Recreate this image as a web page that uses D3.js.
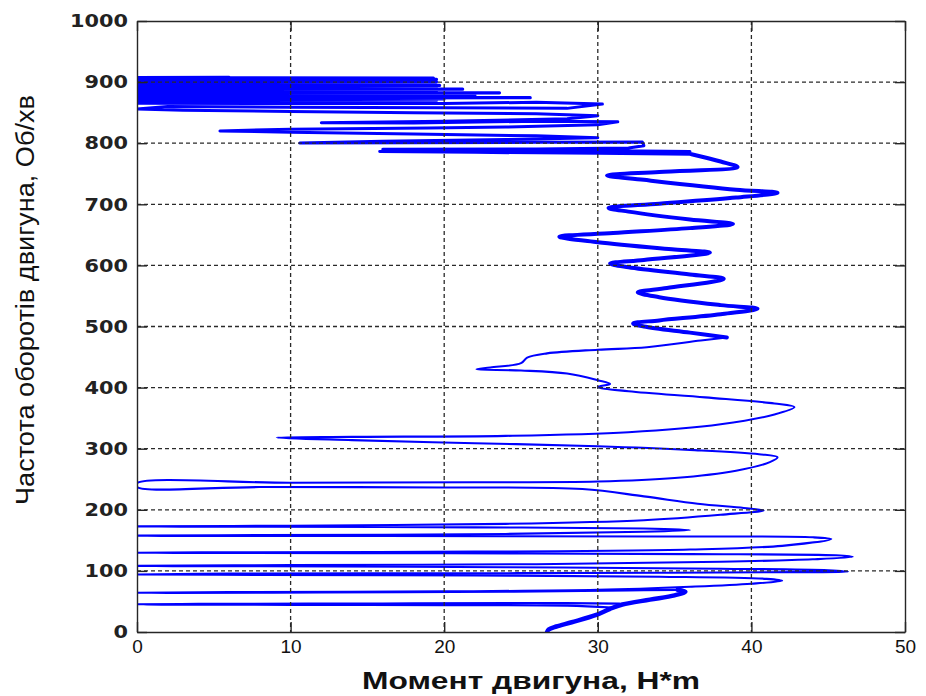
<!DOCTYPE html>
<html>
<head>
<meta charset="utf-8">
<script src="https://cdn.jsdelivr.net/npm/d3@7"></script>
<style>
  body { margin: 0; background: #fff; }
  svg { display: block; }
</style>
</head>
<body>
<svg id="chart" width="926" height="696"></svg>
<script>
// Axis ticks
const torqueTicks = [0, 10, 20, 30, 40, 50];
const rpmTicks = [0, 100, 200, 300, 400, 500, 600, 700, 800, 900, 1000];

// Engine torque (N*m) vs engine speed (rpm), as [torque, rpm]
// Launch from standstill up to the first torque peak
const launch = [
  [26.7, 0], [26.8, 4], [27.3, 9], [28.3, 16], [29.9, 28], [30.8, 38], [31.6, 45],
  [33.4, 53], [35, 60], [35.7, 66], [35.2, 69]
];

// First gear change: torque drops to zero and recovers
const firstShift = [
  [30.9, 40], [28, 43.2], [20, 44], [10, 44.4], [2, 44.8], [0, 45.3], [4, 46], [16, 46.6],
  [26, 47.5], [31.4, 46.5]
];

// Run-up with further gear-change dips to zero torque
const runUp = [
  [35.2, 69], [32, 68], [24, 66],
  [12, 64.7], [2, 64], [0, 64.3], [6, 65.2], [20, 66.5], [30, 69],
  [36, 74], [40, 79], [42, 84], [41, 87], [34, 90.5], [22, 92.5], [8, 93.5], [0, 94], [6, 95.5],
  [20, 96], [34, 97], [43, 98], [46.3, 98.5], [45, 101],
  [38, 103.5], [24, 106], [8, 107.6], [0, 108.2], [10, 109.5], [26, 111], [38, 115], [44, 119],
  [46.6, 123], [45.5, 125.5],
  [36, 127.5], [20, 128.8], [4, 129.3], [0, 129.8], [6, 130.5], [22, 131.5], [36, 135], [42, 141],
  [45.2, 152], [44, 155],
  [34, 156.3], [16, 157], [2, 157.3], [0, 157.8], [8, 158.5], [24, 160.5], [33, 164], [36, 167], [33, 169.5],
  [22, 171.3], [8, 172.2], [0, 172.8], [10, 174], [24, 177], [33, 183], [38, 192], [40.8, 199], [39.5, 203],
  [36.5, 210], [33, 222], [29, 234], [20, 236.6], [8, 237.2], [0, 237.5], [0, 243.5], [10, 244.3],
  [22, 245], [30, 246.2],
  [35, 252], [39, 264], [41.2, 278], [41.7, 286], [40.5, 291], [36, 298], [30, 304], [22, 309],
  [14, 314], [9.1, 318], [14, 319.3],
  [24, 321], [32, 327], [38, 340], [41.5, 356], [42.8, 368], [41.5, 374], [37, 384], [32, 394],
  [30, 401], [30.8, 406], [30, 412], [28, 423], [25, 428], [22.1, 430], [23, 433], [25, 440],
  [25.4, 449], [26.7, 456], [30, 462], [33.2, 466], [36.7, 477], [38.4, 482]
];

// Speed-controlled region: steady torque oscillation
const oscillation = [
  [38.4, 482], [36, 490], [33, 500], [32.3, 505], [34, 510], [38, 520], [40.4, 529],
  [38, 535], [34, 548], [32.6, 556], [34.5, 563], [38.2, 578], [36, 585], [32, 597],
  [30.8, 603], [33, 609], [37.3, 621], [35, 626], [30, 638], [27.5, 647], [31, 653],
  [36, 661], [38.8, 668], [36, 675], [32, 688], [30.7, 694], [34, 701], [39, 711],
  [41.7, 719], [39, 724], [33, 740], [30.6, 747], [34, 753], [39.1, 761], [38, 770],
  [36.1, 782]
];

// Approach to the speed limit
const approach = [
  [36.1, 782], [30, 783.5], [22, 785], [15.8, 786.5], [24, 787], [34, 785.5], [36, 786.5],
  [28, 788.5], [20, 789.5], [16, 790], [26, 790.5], [32, 792], [33, 796], [32.9, 802],
  [26, 801.5], [18, 800.8], [10.6, 800.5], [16, 803], [24, 806], [30, 809], [26, 812], [18, 815],
  [10, 818], [5.4, 820], [10, 823], [19, 825], [24, 826.5], [30, 830], [31.3, 835], [26, 836],
  [18, 833], [12, 833.5], [20, 836], [28, 840], [30, 845], [26, 848], [18, 850], [10, 852],
  [3, 854], [0, 856], [2, 860], [10, 859], [20, 858], [28, 857], [30.3, 864], [26, 867], [20, 865]
];

// Speed limiter: torque chattering between zero and ~20 N*m
const limiter = [
  [20, 865], [0, 865.5], [18.6, 866.5], [0, 867.5], [19, 868.5], [0, 869.5], [19.5, 870.5],
  [0, 871.5], [20, 872.5], [0, 873.5], [25.6, 874.5], [0, 875.5], [19, 876.5], [0, 877.5],
  [22, 878.5], [0, 879.5], [19, 880.5], [0, 881.5], [23.6, 882.5], [0, 883.5], [19, 884.5],
  [0, 885.5], [19.5, 886.5], [0, 887.5], [21.2, 888.5], [0, 889.5], [19, 890.5], [0, 891.5],
  [19.5, 892.5], [0, 893.5], [19.7, 894.5], [0, 895.5], [18.2, 896.5], [0, 897.5], [19, 898.5],
  [0, 899.5], [19.5, 900.5], [0, 901.5], [19, 902.5], [0, 903.5], [19.5, 904.5], [0, 905.5],
  [19.3, 906.5], [0, 907.2], [6, 907.8]
];

const svg = d3.select("#chart");
const plotLeft = 137, plotRight = 905, plotTop = 21, plotBottom = 632;

const x = d3.scaleLinear().domain([0, 50]).range([plotLeft, plotRight]);
const y = d3.scaleLinear().domain([0, 1000]).range([plotBottom, plotTop]);

const axisColor = "#262626";

svg.append("defs").append("clipPath").attr("id", "plot-area")
  .append("rect")
  .attr("x", plotLeft).attr("y", plotTop)
  .attr("width", plotRight - plotLeft).attr("height", plotBottom - plotTop);

// Curve
const smooth = d3.line().curve(d3.curveCatmullRom.alpha(0.5)).x(d => x(d[0])).y(d => y(d[1]));
const straight = d3.line().x(d => x(d[0])).y(d => y(d[1]));
const curveGroup = svg.append("g").attr("clip-path", "url(#plot-area)");
const branches = [
  { data: firstShift, width: 2.1, gen: smooth },
  { data: launch, width: 4.5, gen: smooth },
  { data: runUp, width: 2.1, gen: smooth },
  { data: oscillation, width: 4, gen: smooth },
  { data: approach, width: 3, gen: straight },
  { data: limiter, width: 3.2, gen: straight }
];
branches.forEach(b => {
  curveGroup.append("path")
    .datum(b.data)
    .attr("d", b.gen)
    .attr("fill", "none")
    .attr("stroke", "#0000ff")
    .attr("stroke-width", b.width)
    .attr("stroke-linejoin", "round")
    .attr("stroke-linecap", "round");
});

// Dashed grid
const grid = svg.append("g")
  .attr("stroke", "#2a2a2a")
  .attr("stroke-width", 1.3)
  .attr("stroke-dasharray", "4,3");
grid.selectAll("line.v")
  .data(torqueTicks.slice(1, -1))
  .join("line")
  .attr("class", "v")
  .attr("x1", d => x(d)).attr("x2", d => x(d))
  .attr("y1", plotTop).attr("y2", plotBottom);
grid.selectAll("line.h")
  .data(rpmTicks.slice(1, -1))
  .join("line")
  .attr("class", "h")
  .attr("x1", plotLeft).attr("x2", plotRight)
  .attr("y1", d => y(d)).attr("y2", d => y(d));

// Axes with inward ticks on all four sides
function styleAxis(g) {
  g.select(".domain").attr("stroke", axisColor).attr("stroke-width", 1.4);
  g.selectAll(".tick line").attr("stroke", axisColor).attr("stroke-width", 1.4);
}

const xAxis = svg.append("g")
  .attr("transform", `translate(0,${plotBottom})`)
  .call(d3.axisBottom(x).tickValues(torqueTicks).tickSizeInner(-10).tickSizeOuter(0).tickPadding(8))
  .call(styleAxis);
xAxis.selectAll(".tick text")
  .attr("font-family", "'Liberation Sans', Arial, sans-serif")
  .attr("font-size", 19)
  .attr("fill", "#111");

svg.append("g")
  .attr("transform", `translate(0,${plotTop})`)
  .call(d3.axisTop(x).tickValues(torqueTicks).tickSizeInner(-10).tickSizeOuter(0).tickFormat(""))
  .call(styleAxis);

const yAxis = svg.append("g")
  .attr("transform", `translate(${plotLeft},0)`)
  .call(d3.axisLeft(y).tickValues(rpmTicks).tickFormat(d3.format("d"))
    .tickSizeInner(-10).tickSizeOuter(0).tickPadding(9))
  .call(styleAxis);
yAxis.selectAll(".tick text")
  .attr("font-family", "'DejaVu Sans', Verdana, sans-serif")
  .attr("font-weight", "bold")
  .attr("font-size", 18)
  .attr("fill", "#222")
  .attr("textLength", d => String(d).length * 14.5)
  .attr("lengthAdjust", "spacingAndGlyphs");

svg.append("g")
  .attr("transform", `translate(${plotRight},0)`)
  .call(d3.axisRight(y).tickValues(rpmTicks).tickSizeInner(-10).tickSizeOuter(0).tickFormat(""))
  .call(styleAxis);

// Axis titles
svg.append("text")
  .attr("x", 531)
  .attr("y", 689)
  .attr("text-anchor", "middle")
  .attr("font-family", "'Liberation Sans', Arial, sans-serif")
  .attr("font-weight", "bold")
  .attr("font-size", 23)
  .attr("fill", "#111")
  .attr("textLength", 338)
  .attr("lengthAdjust", "spacingAndGlyphs")
  .text("Момент двигуна, H*m");

svg.append("text")
  .attr("transform", "translate(34,300) rotate(-90)")
  .attr("text-anchor", "middle")
  .attr("font-family", "'Liberation Sans', Arial, sans-serif")
  .attr("font-size", 25)
  .attr("fill", "#111")
  .attr("textLength", 410)
  .attr("lengthAdjust", "spacingAndGlyphs")
  .text("Частота оборотів двигуна, Об/хв");
</script>
</body>
</html>
